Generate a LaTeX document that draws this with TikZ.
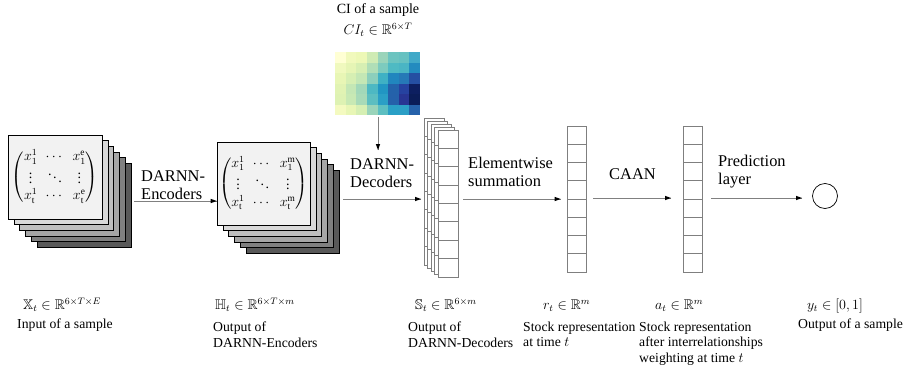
\documentclass[tikz,border=0pt]{standalone}
\usepackage{amsmath}
\usepackage{amssymb}
\usepackage{fontspec}
\setmainfont{Liberation Serif}
\usetikzlibrary{positioning}
\definecolor{linegray}{HTML}{808080}
\definecolor{cellgray}{HTML}{7F7F7F}

\begin{document}
\begin{tikzpicture}[x=0.03cm, y=0.03cm]
	\tikzstyle{every node}+=[inner sep=0pt]
	\tikzstyle{layer}=[draw=black, line width=0.5pt]
	\tikzstyle{cell}=[draw=cellgray, line width=0.7pt]
	\tikzstyle{link}=[draw=linegray, line width=0.8pt]
	\tikzstyle{steplabel}=[font=\fontsize{14}{15.5}\selectfont, align=left, anchor=north west]
	\tikzstyle{caption}=[font=\fontsize{11.7}{13}\selectfont, align=left, anchor=north west]
	\tikzstyle{dimlabel}=[font=\fontsize{12}{14}\selectfont, anchor=base west]
	\tikzstyle{matrixbox}=[layer, fill=black!5, font=\fontsize{12}{14}\selectfont\setlength{\arraycolsep}{3.5pt}]
	\useasboundingbox (0,0) rectangle (914,-383);
	% input of a sample
	\foreach \k/\g in {5/65,4/50,3/35,2/25,1/15}
		\filldraw [layer, fill=black!\g] (8+5.8*\k,-135-5.6*\k) rectangle ++(94,-84);
	\node [matrixbox, minimum width=2.82cm, minimum height=2.52cm] (xin) at (55,-177)
		{$\begin{pmatrix} x_1^1 & \cdots & x_1^{\mathrm{e}}\\ \vdots & \ddots & \vdots\\ x_{\mathrm{t}}^1 & \cdots & x_{\mathrm{t}}^{\mathrm{e}} \end{pmatrix}$};
	% output of the encoders
	\foreach \k/\g in {5/65,4/50,3/35,2/25,1/15}
		\filldraw [layer, fill=black!\g] (217+5.8*\k,-142-5.6*\k) rectangle ++(93,-83);
	\node [matrixbox, minimum width=2.79cm, minimum height=2.49cm] (hout) at (263.5,-183.5)
		{$\begin{pmatrix} x_1^1 & \cdots & x_1^{\mathrm{m}}\\ \vdots & \ddots & \vdots\\ x_{\mathrm{t}}^1 & \cdots & x_{\mathrm{t}}^{\mathrm{m}} \end{pmatrix}$};
	% CI of a sample
	\foreach \row [count=\j from 0] in {
		{FFFFD4,F1F9BC,EDF8B6,CFEBB4,9AD4BA,6CC4C0,66C1C1,41A9C8},
		{F0F9BE,E6F5B5,D7EFB3,B0DEB7,7DCBBE,4FBAC3,4AB5C4,238BBF},
		{E8F6B5,D6EFB3,C4E7B5,8CCFBC,3FB1C4,2186BE,2679B7,254FA2},
		{E1F3B3,C4E7B5,A2D8B9,4DB8C3,2196C3,2462AA,2642A0,0D1F60},
		{DEF2B3,C8E9B4,A8DAB8,5CBEC1,2A9FC6,2561AA,283593,0B1D58},
		{F4FAC0,E8F6B5,D6EFB3,9AD4BA,5DBFC1,2AA0C6,2C9FC6,2662AA}}
		\foreach \c [count=\i from 0] in \row {
			\definecolor{heat}{HTML}{\c}
			\fill [heat] (335+10.625*\i,-52-10.5*\j) rectangle ++(10.625,-10.5);
		}
	\node [font=\fontsize{12}{14}\selectfont, anchor=north] (cil) at (378,-3) {CI of a sample};
	\node [font=\fontsize{12}{14}\selectfont] (cim) at (378,-30) {$CI_t \in \mathbb{R}^{6\times T}$};
	% output of the decoders
	\foreach \k in {4,3,2,1} {
		\filldraw [cell, fill=white] (438-3.5*\k,-130+3*\k) rectangle ++(20,-147);
		\foreach \i in {1,...,7}
			\draw [cell] (438-3.5*\k,-130+3*\k-18.375*\i) -- ++(20,0);
	}
	\node [cell, fill=white, minimum width=0.6cm, minimum height=4.41cm] (sdec) at (448,-203.5) {};
	\foreach \i in {1,...,7}
		\draw [cell] (438,-130-18.375*\i) -- (458,-130-18.375*\i);
	% stock representation
	\node [cell, fill=white, minimum width=0.57cm, minimum height=4.38cm] (rt) at (576.5,-199) {};
	\foreach \i in {1,...,7}
		\draw [cell] (567,-126-18.25*\i) -- (586,-126-18.25*\i);
	% after CAAN
	\node [cell, fill=white, minimum width=0.57cm, minimum height=4.38cm] (at) at (692.5,-199) {};
	\foreach \i in {1,...,7}
		\draw [cell] (683,-126-18.25*\i) -- (702,-126-18.25*\i);
	% output
	\node [draw=black, line width=0.6pt, circle, minimum size=0.75cm] (yt) at (825,-196) {};
	% connectors
	\coordinate (e1s) at (134,-201);
	\coordinate (e1e) at (e1s -| hout.west);
	\coordinate (e2s) at (343,-199);
	\coordinate (e2e) at (421,-199);
	\coordinate (e3s) at (463,-199);
	\coordinate (e3e) at ([xshift=-0.18cm]rt.west);
	\coordinate (e4s) at (593,-198);
	\coordinate (e4e) at (671,-198);
	\coordinate (e5s) at (711,-198);
	\coordinate (e5e) at (802,-198);
	\coordinate (cit) at (378,-117);
	\coordinate (cib) at (378,-150);
	\draw [link] (e1s) -- (e1e);
	\fill [black] (e1e) -- ++(-6,2.2) -- ++(0,-4.4) -- cycle;
	\draw [link] (e2s) -- (e2e);
	\fill [black] (e2e) -- ++(-6,2.2) -- ++(0,-4.4) -- cycle;
	\draw [link] (e3s) -- (e3e);
	\fill [black] (e3e) -- ++(-6,2.2) -- ++(0,-4.4) -- cycle;
	\draw [link] (e4s) -- (e4e);
	\fill [black] (e4e) -- ++(-6,2.2) -- ++(0,-4.4) -- cycle;
	\draw [link] (e5s) -- (e5e);
	\fill [black] (e5e) -- ++(-6,2.2) -- ++(0,-4.4) -- cycle;
	\draw [link] (cit) -- (cib);
	\fill [black] (cib) -- ++(-2.2,6) -- ++(4.4,0) -- cycle;
	% step labels
	\node [steplabel] (encl) at (141,-170) {DARNN-\\Encoders};
	\node [steplabel] (decl) at (350,-158) {DARNN-\\Decoders};
	\node [steplabel] (suml) at (468,-157) {Elementwise\\summation};
	\node [steplabel] (caanl) at (609,-168) {CAAN};
	\node [steplabel] (predl) at (718,-155) {Prediction\\layer};
	% shapes and captions
	\node [dimlabel] (xdim) at (23,-309.5) {$\mathbb{X}_t \in \mathbb{R}^{6\times T\times E}$};
	\node [dimlabel] (hdim) at (215,-309.5) {$\mathbb{H}_t \in \mathbb{R}^{6\times T\times m}$};
	\node [dimlabel] (sdim) at (415,-309.5) {$\mathbb{S}_t \in \mathbb{R}^{6\times m}$};
	\node [dimlabel] (rdim) at (543,-309.5) {$r_t \in \mathbb{R}^m$};
	\node [dimlabel] (adim) at (655,-309.5) {$a_t \in \mathbb{R}^m$};
	\node [dimlabel] (ydim) at (807,-309.5) {$y_t \in [0,1]$};
	\node [caption] (xcap) at (17,-319) {Input of a sample};
	\node [caption] (hcap) at (213,-322) {Output of\\DARNN-Encoders};
	\node [caption] (scap) at (408,-322) {Output of\\DARNN-Decoders};
	\node [caption] (rcap) at (523,-322) {Stock representation\\at time $t$};
	\node [caption] (acap) at (639,-322) {Stock representation\\after interrelationships\\weighting at time $t$};
	\node [caption] (ycap) at (798,-319) {Output of a sample};
\end{tikzpicture}
\end{document}
